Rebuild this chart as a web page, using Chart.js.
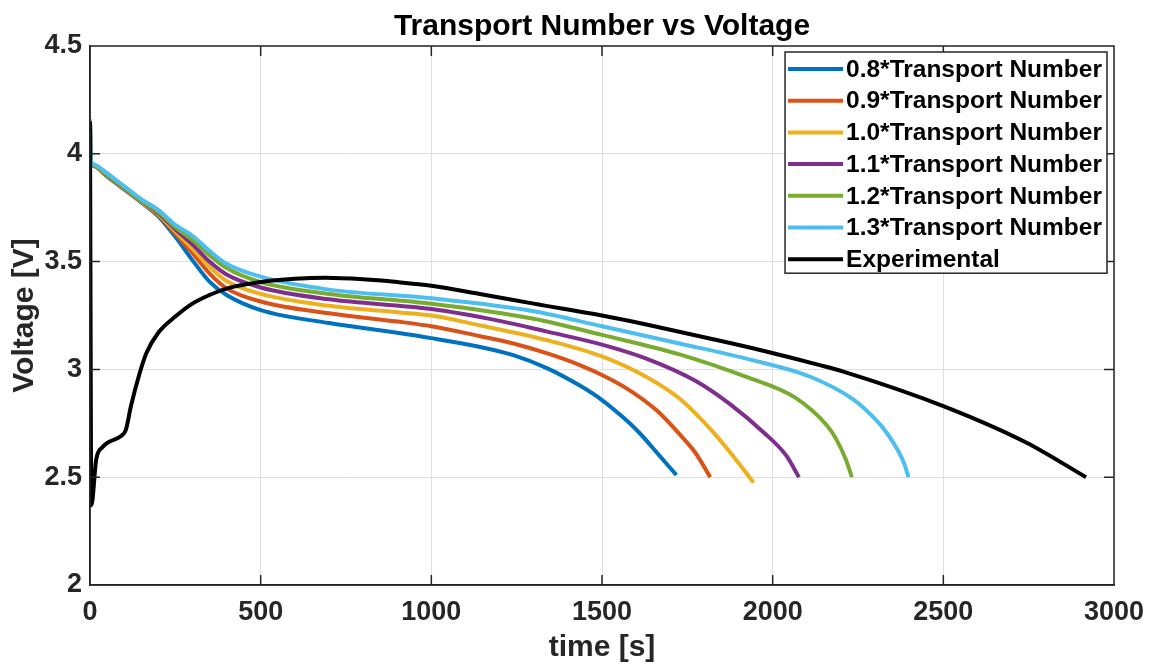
<!DOCTYPE html>
<html>
<head>
<meta charset="utf-8">
<script src="https://cdn.jsdelivr.net/npm/chart.js@4.4.0/dist/chart.umd.min.js"></script>
<style>
  html, body { margin: 0; padding: 0; background: #fff; }
  #wrap { width: 1152px; height: 664px; position: relative; }
</style>
</head>
<body>
<div id="wrap"><canvas id="tnChart"></canvas></div>
<script>
// time [s] / voltage [V]
const t08 = [0, 2, 10, 50, 100, 150, 200, 250, 300, 350, 400, 500, 700, 900, 1000, 1140, 1240, 1340, 1435, 1500, 1560, 1610, 1660, 1718];
const v08 = [4.15, 3.97, 3.945, 3.895, 3.835, 3.775, 3.71, 3.615, 3.507, 3.407, 3.345, 3.275, 3.215, 3.17, 3.145, 3.105, 3.066, 3.005, 2.925, 2.858, 2.78, 2.705, 2.615, 2.51];

const t09 = [0, 2, 10, 50, 100, 150, 200, 250, 300, 350, 400, 500, 700, 900, 1000, 1140, 1240, 1340, 1435, 1500, 1580, 1660, 1727, 1775, 1817];
const v09 = [4.15, 3.97, 3.945, 3.897, 3.837, 3.777, 3.715, 3.63, 3.54, 3.445, 3.376, 3.315, 3.26, 3.222, 3.20, 3.155, 3.12, 3.074, 3.02, 2.974, 2.904, 2.81, 2.70, 2.61, 2.50];

const t10 = [0, 2, 10, 50, 100, 150, 200, 250, 300, 350, 400, 500, 700, 900, 1000, 1140, 1340, 1500, 1630, 1727, 1825, 1893, 1944];
const v10 = [4.15, 3.97, 3.946, 3.898, 3.838, 3.778, 3.72, 3.64, 3.56, 3.476, 3.41, 3.35, 3.295, 3.265, 3.25, 3.205, 3.135, 3.06, 2.965, 2.865, 2.71, 2.58, 2.475];

const t11 = [0, 2, 10, 50, 100, 150, 200, 250, 300, 350, 400, 500, 700, 1000, 1200, 1340, 1500, 1630, 1776, 1874, 1972, 2040, 2077];
const v11 = [4.15, 3.97, 3.947, 3.9, 3.84, 3.78, 3.725, 3.65, 3.58, 3.50, 3.44, 3.38, 3.325, 3.28, 3.225, 3.175, 3.115, 3.05, 2.945, 2.84, 2.71, 2.60, 2.5];

const t12 = [0, 2, 10, 50, 100, 150, 200, 250, 300, 350, 400, 500, 700, 1000, 1300, 1500, 1727, 1923, 2065, 2159, 2185, 2215, 2232];
const v12 = [4.15, 3.97, 3.948, 3.902, 3.842, 3.782, 3.73, 3.66, 3.60, 3.53, 3.47, 3.405, 3.35, 3.305, 3.235, 3.16, 3.07, 2.965, 2.87, 2.74, 2.68, 2.58, 2.5];

const t13 = [0, 2, 10, 50, 100, 150, 200, 250, 300, 350, 400, 500, 700, 1000, 1300, 1500, 1727, 1923, 2110, 2237, 2300, 2335, 2365, 2385, 2398];
const v13 = [4.16, 3.975, 3.952, 3.91, 3.85, 3.79, 3.74, 3.67, 3.62, 3.55, 3.49, 3.43, 3.37, 3.33, 3.27, 3.20, 3.12, 3.05, 2.966, 2.86, 2.77, 2.704, 2.63, 2.565, 2.5];

const tExp = [0, 4, 18, 37, 57, 90, 105, 120, 145, 165, 200, 250, 300, 350, 400, 500, 600, 690, 800, 900, 1000, 1142, 1300, 1500, 1640, 1825, 1963, 2138, 2207, 2500, 2744, 2918];
const vExp = [4.15, 2.37, 2.58, 2.64, 2.665, 2.69, 2.72, 2.83, 2.98, 3.075, 3.17, 3.245, 3.305, 3.345, 3.375, 3.405, 3.42, 3.425, 3.418, 3.405, 3.388, 3.35, 3.305, 3.25, 3.205, 3.14, 3.09, 3.02, 2.99, 2.83, 2.66, 2.5];

const seriesNames = ['0.8*Transport Number', '0.9*Transport Number', '1.0*Transport Number',
  '1.1*Transport Number', '1.2*Transport Number', '1.3*Transport Number', 'Experimental'];
const seriesTimes = [t08, t09, t10, t11, t12, t13, tExp];
const seriesVolts = [v08, v09, v10, v11, v12, v13, vExp];
const lineColors = ['#0072BD', '#D95319', '#EDB120', '#7E2F8E', '#77AC30', '#4DBEEE', '#000000'];

const xTicks = [0, 500, 1000, 1500, 2000, 2500, 3000];
const yTicks = [2, 2.5, 3, 3.5, 4, 4.5];

const FONT = '"Liberation Sans", Arial, Helvetica, sans-serif';
const AXIS = '#262626';

const datasets = seriesNames.map((name, i) => ({
  label: name,
  data: seriesTimes[i].map((t, k) => ({ x: t, y: seriesVolts[i][k] })),
  borderColor: lineColors[i],
  backgroundColor: lineColors[i],
  borderWidth: 4,
  pointRadius: 0,
  cubicInterpolationMode: 'monotone',
  fill: false,
  // black on top, later curves above earlier ones (like matlab)
  order: i === 6 ? 0 : 7 - i
}));

// box lines on top/right, inward ticks, legend box and title
const matlabLook = {
  id: 'matlabLook',
  afterDatasetsDraw(chart) {
    const { ctx, chartArea: ca, scales } = chart;
    const tl = 10;
    ctx.save();
    ctx.strokeStyle = AXIS;
    ctx.lineWidth = 1.5;
    ctx.beginPath();
    ctx.moveTo(ca.left, ca.top); ctx.lineTo(ca.right, ca.top); ctx.lineTo(ca.right, ca.bottom);
    ctx.lineTo(ca.left, ca.bottom); ctx.lineTo(ca.left, ca.top);
    xTicks.forEach(v => {
      const px = scales.x.getPixelForValue(v);
      ctx.moveTo(px, ca.bottom); ctx.lineTo(px, ca.bottom - tl);
      ctx.moveTo(px, ca.top); ctx.lineTo(px, ca.top + tl);
    });
    yTicks.forEach(v => {
      const py = scales.y.getPixelForValue(v);
      ctx.moveTo(ca.left, py); ctx.lineTo(ca.left + tl, py);
      ctx.moveTo(ca.right, py); ctx.lineTo(ca.right - tl, py);
    });
    ctx.stroke();

    // legend
    ctx.font = 'bold 24.5px ' + FONT;
    const textW = Math.max(...seriesNames.map(s => ctx.measureText(s).width));
    const rowH = 31.7;
    const boxW = 61 + textW + 5;
    const boxH = 17 + rowH * (seriesNames.length - 1) + 14;
    const bx = ca.right - 7 - boxW;
    const by = ca.top + 6;
    ctx.fillStyle = '#fff';
    ctx.fillRect(bx, by, boxW, boxH);
    ctx.strokeStyle = AXIS;
    ctx.lineWidth = 1.5;
    ctx.strokeRect(bx, by, boxW, boxH);
    ctx.textBaseline = 'middle';
    ctx.textAlign = 'left';
    seriesNames.forEach((name, i) => {
      const cy = by + 17 + i * rowH;
      ctx.strokeStyle = lineColors[i];
      ctx.lineWidth = 4;
      ctx.beginPath();
      ctx.moveTo(bx + 3, cy); ctx.lineTo(bx + 58, cy);
      ctx.stroke();
      ctx.fillStyle = '#000';
      ctx.fillText(name, bx + 61, cy + 1);
    });

    // title
    ctx.font = 'bold 30px ' + FONT;
    ctx.textAlign = 'center';
    ctx.textBaseline = 'alphabetic';
    ctx.fillStyle = '#000';
    ctx.fillText('Transport Number vs Voltage', (ca.left + ca.right) / 2, ca.top - 11);
    ctx.restore();
  }
};

const ctx = document.getElementById('tnChart').getContext('2d');

new Chart(ctx, {
  type: 'line',
  data: { datasets: datasets },
  options: {
    responsive: true,
    maintainAspectRatio: false,
    animation: false,
    layout: { padding: { top: 46, right: 38, left: 0, bottom: 0 } },
    scales: {
      x: {
        type: 'linear',
        min: 0,
        max: 3000,
        afterBuildTicks: s => { s.ticks = xTicks.map(v => ({ value: v })); },
        afterFit: s => { s.height = 79; s.paddingLeft = 0; s.paddingRight = 0; },
        grid: { color: '#dfdfdf', lineWidth: 1, drawTicks: false },
        border: { color: AXIS, width: 1.5 },
        ticks: { color: AXIS, padding: 11, maxRotation: 0, callback: v => String(v),
          font: { family: FONT, size: 27, weight: 'bold' } },
        title: { display: true, text: 'time [s]', color: AXIS, padding: { top: 0, bottom: -2 },
          font: { family: FONT, size: 30, weight: 'bold' } }
      },
      y: {
        type: 'linear',
        min: 2,
        max: 4.5,
        afterBuildTicks: s => { s.ticks = yTicks.map(v => ({ value: v })); },
        afterFit: s => { s.width = 90; s.paddingTop = 0; s.paddingBottom = 0; },
        grid: { color: '#dfdfdf', lineWidth: 1, drawTicks: false },
        border: { color: AXIS, width: 1.5 },
        ticks: { color: AXIS, padding: 8, callback: v => String(v),
          font: { family: FONT, size: 27, weight: 'bold' } },
        title: { display: true, text: 'Voltage [V]', color: AXIS, padding: { top: 7, bottom: 0 },
          font: { family: FONT, size: 30, weight: 'bold' } }
      }
    },
    plugins: {
      legend: { display: false },
      tooltip: { enabled: false },
      title: { display: false }
    }
  },
  plugins: [matlabLook]
});
</script>
</body>
</html>
